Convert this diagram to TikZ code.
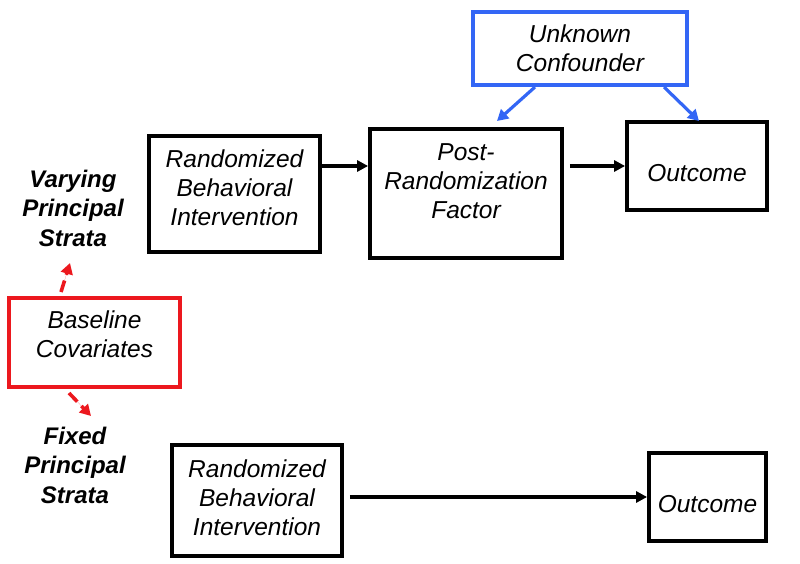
\documentclass[tikz,border=0pt]{standalone}
\usepackage{fontspec}
\setmainfont{Liberation Sans}
\usetikzlibrary{arrows.meta}
\definecolor{ucblue}{RGB}{51,102,245}
\definecolor{bcred}{RGB}{236,24,30}
\begin{document}
\begin{tikzpicture}[x=1pt,y=-1pt,
  box/.style={draw=black,line width=3.8pt,inner sep=0pt},
  txt/.style={align=center,inner sep=0pt,font=\fontsize{24.5}{29}\selectfont\itshape},
  lbl/.style={align=center,font=\fontsize{24}{29.5}\selectfont\bfseries\itshape},
  arr/.style={line width=3.2pt,-{Triangle[length=11pt,width=11pt]}},
  barr/.style={line width=3.2pt,draw=ucblue,-{Triangle[length=11pt,width=12pt]}},
  rarr/.style={line width=3.6pt,draw=bcred,dash pattern=on 12pt off 6pt,-{Triangle[length=11pt,width=12pt]},fill=bcred}]
\useasboundingbox (0,0) rectangle (800,564);
\node[box,draw=ucblue,minimum width=214pt,minimum height=73pt] (uc) at (580,48.5) {};
\node[txt] (uct) at (uc.center) {Unknown\\Confounder};
\node[box,minimum width=192pt,minimum height=129pt] (prf) at (466,193.5) {};
\node[txt] (prft) at ([yshift=12pt]prf.center) {Post-\\Randomization\\Factor};
\node[box,minimum width=140pt,minimum height=88pt] (out1) at (697,166) {};
\node[txt] (out1t) at ([yshift=-7pt]out1.center) {Outcome};
\node[box,minimum width=171pt,minimum height=116pt] (rbi1) at (234.5,194) {};
\node[txt] (rbi1t) at ([yshift=6pt]rbi1.center) {Randomized\\Behavioral\\Intervention};
\node[box,draw=bcred,minimum width=171pt,minimum height=89pt] (bc) at (94.5,342.5) {};
\node[txt] (bct) at ([yshift=8pt]bc.center) {Baseline\\Covariates};
\node[box,minimum width=170pt,minimum height=111pt] (rbi2) at (257,500.5) {};
\node[txt] (rbi2t) at ([yshift=3pt]rbi2.center) {Randomized\\Behavioral\\Intervention};
\node[box,minimum width=117pt,minimum height=88pt] (out2) at (707.5,497) {};
\node[txt] (out2t) at ([yshift=-7pt]out2.center) {Outcome};
\node[lbl] (vps) at (73,208) {Varying\\Principal\\Strata};
\node[lbl] (fps) at (75,465) {Fixed\\Principal\\Strata};
% connectors
\draw[arr] (rbi1.east |- out1.west) -- (prf.west |- out1.west);
\draw[arr] ([xshift=6pt]prf.east |- out1.west) -- (out1.west);
\draw[arr] ([xshift=6pt]rbi2.east |- out2.west) -- (out2.west);
\coordinate (b1s) at (535,87);
\coordinate (b1e) at (497,121);
\coordinate (b2s) at (664,87);
\coordinate (b2e) at (699,121);
\draw[barr] (b1s) -- (b1e);
\draw[barr] (b2s) -- (b2e);
\coordinate (r1s) at (61,292);
\coordinate (r1e) at (70,263);
\coordinate (r2s) at (69,393);
\coordinate (r2e) at (91,416);
\draw[rarr] (r1s) -- (r1e);
\draw[rarr] (r2s) -- (r2e);
\end{tikzpicture}
\end{document}
